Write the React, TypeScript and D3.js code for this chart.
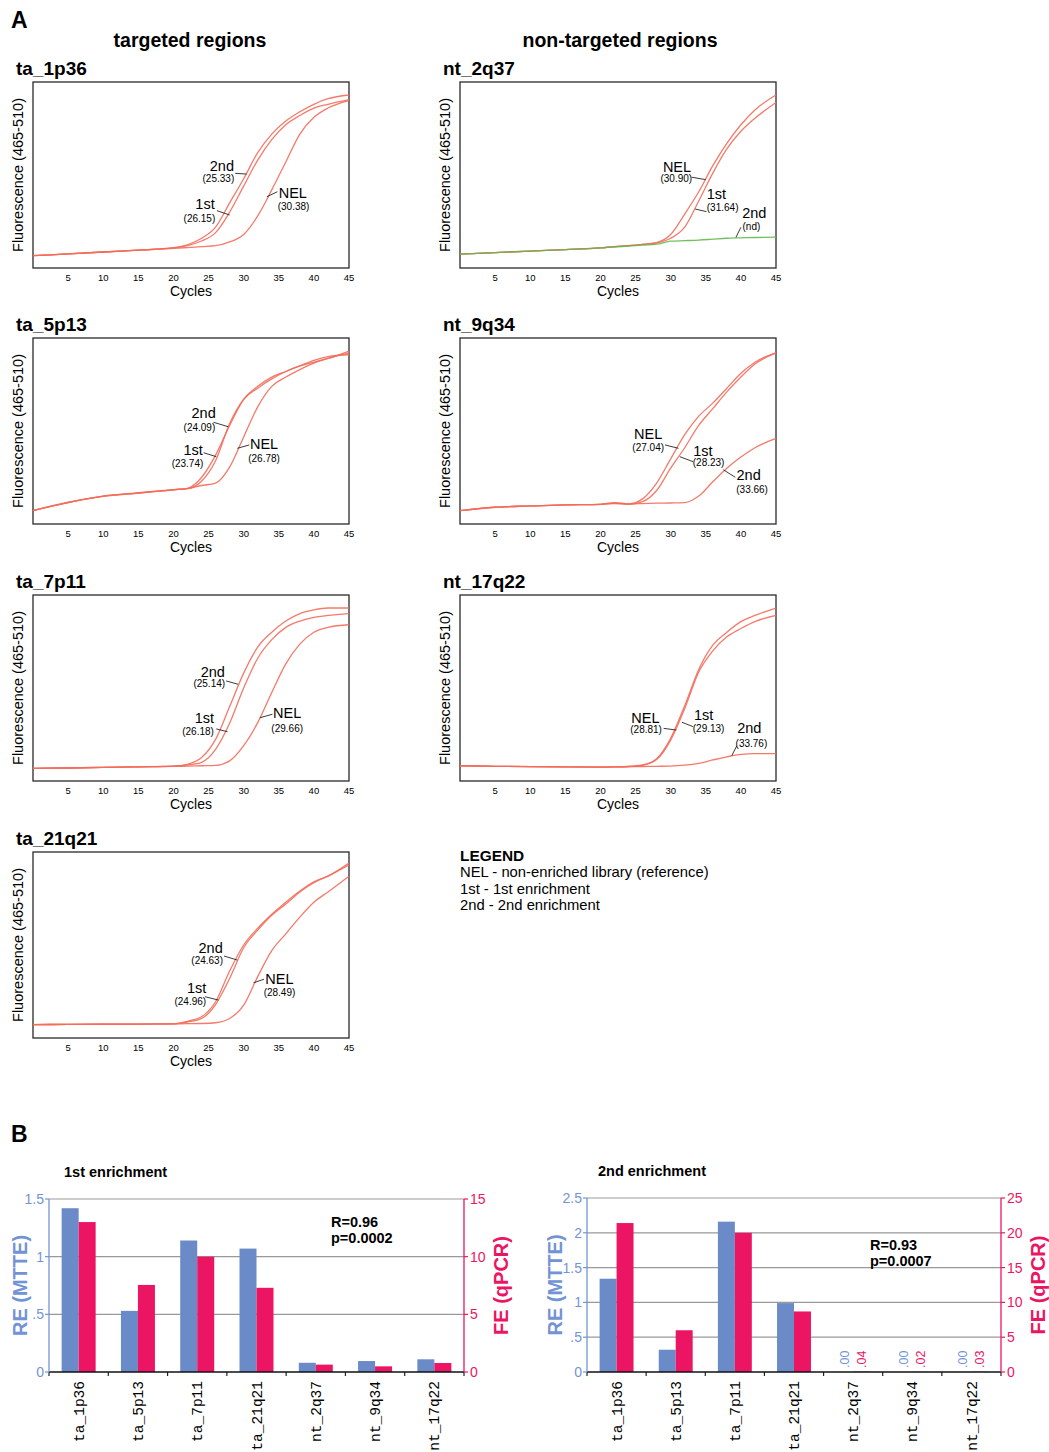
import React from 'react';
import * as d3 from 'd3';

// ---------- panel A: amplification curves (fluorescence, 0-100 scale) ----------
const cycles = [0, 5, 10, 15, 20, 22, 24, 26, 28, 30, 32, 34, 36, 38, 40, 42, 45];
const cycleTicks = [5, 10, 15, 20, 25, 30, 35, 40, 45];

const ta1p36_2nd = [6.6, 7.6, 8.6, 9.6, 10.9, 12.5, 16, 22, 35, 48, 62, 72, 79, 84, 88, 91, 93];
const ta1p36_1st = [6.6, 7.6, 8.6, 9.6, 10.8, 12, 14.5, 19, 30, 44, 58, 69, 77, 82, 86, 88, 90.5];
const ta1p36_nel = [6.6, 7.6, 8.6, 9.6, 10.5, 11, 11.5, 12, 14, 18, 28, 42, 57, 72, 81, 86, 90];

const ta5p13_2nd = [7.2, 11.7, 14.8, 16.6, 18.4, 19, 23, 34, 54, 67, 73, 78, 82, 85, 87, 89, 93];
const ta5p13_1st = [7.2, 11.5, 15, 16.8, 18.5, 19.2, 25, 37, 53, 67, 74, 79, 82, 85, 88, 90, 91];
const ta5p13_nel = [7.2, 11.5, 15, 16.6, 18.4, 19, 20.7, 22, 30.6, 46.8, 63, 74, 79, 83, 86.5, 89, 92];

const ta7p11_2nd = [6.8, 7, 7.3, 7.6, 8, 9, 12.6, 22.4, 40, 58, 72, 80, 86, 90, 92, 93, 93];
const ta7p11_1st = [6.8, 7, 7.3, 7.6, 8, 8.6, 10, 17, 31, 50, 66, 76, 82.6, 86, 88, 89, 90];
const ta7p11_nel = [6.8, 7, 7.3, 7.6, 7.9, 8, 8.2, 8.4, 10.8, 19, 31.4, 47.6, 63, 73.6, 80, 82.6, 84];

const ta21q21_2nd = [7.2, 7.3, 7.4, 7.5, 7.6, 9, 11.4, 19.5, 36, 50, 59, 66.5, 73, 79, 84, 87, 94];
const ta21q21_1st = [7.2, 7.3, 7.4, 7.5, 7.6, 8.6, 10.5, 18, 32, 48.5, 58, 66, 72, 78.5, 83.5, 87, 93];
const ta21q21_nel = [7.2, 7.3, 7.4, 7.5, 7.6, 7.7, 7.8, 8.2, 10.5, 17.7, 33, 47, 56, 65, 73, 78.5, 87];

const nt2q37_nel = [7.5, 8.3, 9.1, 9.9, 10.8, 11.5, 12, 12.7, 13.7, 18, 29, 41, 55, 67, 77, 85, 93];
const nt2q37_1st = [7.5, 8.3, 9.1, 9.9, 10.8, 11.5, 12, 12.7, 13.5, 16, 22, 36, 51, 64, 73.5, 80.5, 89];
const nt2q37_2nd = [7.5, 8.3, 9.1, 9.9, 10.8, 11.3, 11.8, 12.3, 12.8, 14.4, 14.7, 15, 15.5, 16, 16.2, 16.4, 16.6];

const nt9q34_nel = [7.2, 9, 9.7, 10.3, 10.6, 11.5, 10.8, 13.5, 22, 35, 48, 58, 65, 73, 81, 87, 92];
const nt9q34_1st = [7.2, 9, 9.7, 10.3, 10.6, 11.2, 10.6, 12, 18, 30, 41, 53, 62, 71, 79, 86, 92];
const nt9q34_2nd = [7.2, 9, 9.7, 10.3, 10.6, 11, 10.8, 11, 11.2, 11.3, 11.5, 15, 22.7, 30, 36, 41, 46];

const nt17q22_nel = [8.2, 7.9, 7.7, 7.6, 7.5, 7.6, 7.8, 8.6, 12, 23, 40.5, 60, 73, 80, 85.7, 89, 93];
const nt17q22_1st = [8.2, 7.9, 7.7, 7.6, 7.5, 7.6, 7.8, 8.4, 11.5, 22, 39, 58.6, 70, 77.5, 82, 85.7, 89];
const nt17q22_2nd = [8.2, 7.9, 7.7, 7.6, 7.5, 7.6, 7.7, 7.8, 7.9, 8, 8.5, 9.5, 11.3, 13, 14.3, 14.7, 14.7];

// crossing points (Ct) shown next to each curve, null = not detected
const ctTa1p36 = { nel: 30.38, first: 26.15, second: 25.33 };
const ctTa5p13 = { nel: 26.78, first: 23.74, second: 24.09 };
const ctTa7p11 = { nel: 29.66, first: 26.18, second: 25.14 };
const ctTa21q21 = { nel: 28.49, first: 24.96, second: 24.63 };
const ctNt2q37 = { nel: 30.90, first: 31.64, second: null };
const ctNt9q34 = { nel: 27.04, first: 28.23, second: 33.66 };
const ctNt17q22 = { nel: 28.81, first: 29.13, second: 33.76 };

// label placement, in (cycle, fluorescence) units: name, ct, leader start -> leader end
const notesTa1p36 = [
  { key: 'second', name: [26.9, 52.3], ct: [26.4, 46.4], leader: [[28.8, 50.9], [30.4, 50.5]] },
  { key: 'first', name: [24.5, 31.6], ct: [23.7, 24.9], leader: [[26.2, 30.8], [28.0, 28.5]] },
  { key: 'nel', name: [37.0, 37.5], ct: [37.1, 31.2], leader: [[34.8, 41.0], [33.3, 38.3]] },
];
const notesTa5p13 = [
  { key: 'second', name: [24.3, 56.8], ct: [23.7, 50.2], leader: [[25.7, 54.7], [27.8, 52.3]] },
  { key: 'first', name: [22.8, 37.1], ct: [22.0, 30.5], leader: [[24.3, 38.3], [26.1, 36.2]] },
  { key: 'nel', name: [32.9, 40.2], ct: [32.9, 33.5], leader: [[30.8, 42.5], [29.1, 40.7]] },
];
const notesTa7p11 = [
  { key: 'second', name: [25.6, 56.1], ct: [25.1, 50.4], leader: [[27.5, 53.8], [29.2, 52.0]] },
  { key: 'first', name: [24.4, 31.0], ct: [23.5, 24.7], leader: [[26.1, 28.0], [27.7, 26.5]] },
  { key: 'nel', name: [36.2, 33.7], ct: [36.2, 26.5], leader: [[34.1, 35.9], [32.3, 34.0]] },
];
const notesTa21q21 = [
  { key: 'second', name: [25.3, 45.9], ct: [24.8, 39.6], leader: [[27.2, 44.1], [29.1, 41.9]] },
  { key: 'first', name: [23.3, 24.0], ct: [22.4, 17.7], leader: [[24.5, 22.2], [26.4, 20.4]] },
  { key: 'nel', name: [35.1, 29.0], ct: [35.1, 22.7], leader: [[32.9, 31.6], [31.4, 29.7]] },
];
const notesNt2q37 = [
  { key: 'nel', name: [30.9, 51.8], ct: [30.8, 46.4], leader: [[33.0, 48.8], [35.0, 47.5]] },
  { key: 'first', name: [36.5, 37.1], ct: [37.4, 30.8], leader: [[35.1, 30.3], [33.5, 31.7]] },
  { key: 'second', name: [41.9, 26.7], ct: [41.5, 20.6], leader: [[40.0, 21.9], [39.3, 16.5]] },
];
const notesNt9q34 = [
  { key: 'nel', name: [26.8, 45.7], ct: [26.8, 39.4], leader: [[29.2, 42.5], [31.1, 40.7]] },
  { key: 'first', name: [34.6, 36.7], ct: [35.4, 31.0], leader: [[33.2, 33.5], [31.3, 36.2]] },
  { key: 'second', name: [41.1, 23.7], ct: [41.6, 16.7], leader: [[39.2, 25.1], [37.5, 29.2]] },
];
const notesNt17q22 = [
  { key: 'nel', name: [26.4, 31.0], ct: [26.5, 25.6], leader: [[29.0, 28.3], [30.8, 27.4]] },
  { key: 'first', name: [34.7, 32.8], ct: [35.4, 26.5], leader: [[33.2, 29.2], [31.6, 31.6]] },
  { key: 'second', name: [41.2, 25.6], ct: [41.5, 18.4], leader: [[39.4, 18.8], [38.7, 13.6]] },
];

const curveNames = { nel: 'NEL', first: '1st', second: '2nd' };
const legendLines = ['NEL - non-enriched library (reference)', '1st - 1st enrichment', '2nd - 2nd enrichment'];

// ---------- panel B: enrichment bars ----------
const regions = ['ta_1p36', 'ta_5p13', 'ta_7p11', 'ta_21q21', 'nt_2q37', 'nt_9q34', 'nt_17q22'];
const re1 = [1.42, 0.53, 1.14, 1.07, 0.08, 0.095, 0.11];
const fe1 = [13.0, 7.55, 10.0, 7.3, 0.64, 0.49, 0.78];
const re2 = [1.34, 0.32, 2.16, 0.99, 0, 0, 0];
const fe2 = [21.4, 6.0, 20.0, 8.7, 0.04, 0.02, 0.03];
const reTicks1 = [0, 0.5, 1, 1.5];
const feTicks1 = [0, 5, 10, 15];
const reTicks2 = [0, 0.5, 1, 1.5, 2, 2.5];
const feTicks2 = [0, 5, 10, 15, 20, 25];

const SANS = "'Liberation Sans', Arial, Helvetica, sans-serif";
const MONO = "'Liberation Mono', 'DejaVu Sans Mono', 'Courier New', monospace";
const RED = '#f36b5a';
const GREEN = '#62b94c';
const BLUE = '#6a8ac8';
const BLUE_TXT = '#7394d4';
const PINK = '#ec1564';

const boxW = 316;
const boxH = 186;

function AmpPlot({ title, left, top, series, ct, notes }) {
  const x = d3.scaleLinear().domain([0, 45]).range([left, left + boxW]);
  const y = d3.scaleLinear().domain([0, 100]).range([top + boxH, top]);
  const line = d3.line<number>()
    .x((d, i) => x(cycles[i]))
    .y(d => y(d))
    .curve(d3.curveMonotoneX);

  return (
    <g>
      <text x={left - 17} y={top - 7} fontSize={19} fontWeight="bold">{title}</text>
      <rect x={left} y={top} width={boxW} height={boxH} fill="#fff" stroke="#2a2a2a" strokeWidth={1.3} />
      {series.map((s, i) => (
        <path key={i} d={line(s.values)} fill="none" stroke={s.color} strokeWidth={1.3} strokeOpacity={0.9} />
      ))}
      {cycleTicks.map(t => (
        <text key={t} x={x(t)} y={top + boxH + 13} fontSize={9.5} textAnchor="middle">{t}</text>
      ))}
      <text x={left + boxW / 2} y={top + boxH + 28} fontSize={14} textAnchor="middle">Cycles</text>
      <text transform={`translate(${left - 15.5},${top + boxH / 2}) rotate(-90)`} dy="0.35em"
        fontSize={14.5} textAnchor="middle">Fluorescence (465-510)</text>
      {notes.map(n => {
        const v = ct[n.key];
        return (
          <g key={n.key}>
            <line x1={x(n.leader[0][0])} y1={y(n.leader[0][1])} x2={x(n.leader[1][0])} y2={y(n.leader[1][1])}
              stroke="#222" strokeWidth={0.9} />
            <text x={x(n.name[0])} y={y(n.name[1])} fontSize={14.5} textAnchor="middle">{curveNames[n.key]}</text>
            <text x={x(n.ct[0])} y={y(n.ct[1])} fontSize={10} textAnchor="middle">
              {v == null ? '(nd)' : `(${v.toFixed(2)})`}
            </text>
          </g>
        );
      })}
    </g>
  );
}

const trimZero = (d: number) => (d === 0 ? '0' : String(d).replace(/^0\./, '.'));

function EnrichChart({ title, titleX, left, right, top, bottom, re, fe, reTicks, feTicks, r, p, statsX, statsY, reLabelGap }) {
  const x = d3.scaleBand().domain(regions).range([left, right]);
  const sub = d3.scaleBand().domain(['re', 'fe']).range([0, x.bandwidth()]).paddingInner(0).paddingOuter(0.744);
  const yRe = d3.scaleLinear().domain([0, reTicks[reTicks.length - 1]]).range([bottom, top]);
  const yFe = d3.scaleLinear().domain([0, feTicks[feTicks.length - 1]]).range([bottom, top]);
  const bounds = regions.map(c => x(c)).concat([right]);

  return (
    <g>
      <text x={titleX} y={top - 22} fontSize={14.5} fontWeight="bold">{title}</text>
      {reTicks.filter(t => t > 0).map(t => (
        <line key={t} x1={left} x2={right} y1={yRe(t)} y2={yRe(t)} stroke="#999" strokeWidth={1.2} />
      ))}
      {regions.map((c, i) => (
        <g key={c}>
          <rect x={x(c) + sub('re')} y={yRe(re[i])} width={sub.bandwidth()} height={bottom - yRe(re[i])} fill={BLUE} />
          <rect x={x(c) + sub('fe')} y={yFe(fe[i])} width={sub.bandwidth()} height={bottom - yFe(fe[i])} fill={PINK} />
          {re[i] < 0.005 && (
            <g fontSize={12.5}>
              <text transform={`translate(${x(c) + sub('re') + sub.bandwidth() / 2},${bottom - 4}) rotate(-90)`}
                dy="0.35em" fill={BLUE_TXT}>{d3.format('.2f')(re[i]).replace(/^0/, '')}</text>
              <text transform={`translate(${x(c) + sub('fe') + sub.bandwidth() / 2},${bottom - 4}) rotate(-90)`}
                dy="0.35em" fill={PINK}>{d3.format('.2f')(fe[i]).replace(/^0/, '')}</text>
            </g>
          )}
          <text transform={`translate(${x(c) + x.bandwidth() / 2},${bottom + 9}) rotate(-90)`} dy="0.35em"
            textAnchor="end" fontFamily={MONO} fontSize={14.5}>{c}</text>
        </g>
      ))}
      {bounds.map((b, i) => (
        <line key={i} x1={b} x2={b} y1={bottom} y2={bottom + 4} stroke="#222" strokeWidth={1.2} />
      ))}
      <line x1={left} x2={right} y1={bottom} y2={bottom} stroke="#111" strokeWidth={1.6} />
      {/* left axis, RE */}
      <line x1={left} x2={left} y1={top} y2={bottom} stroke={BLUE_TXT} strokeWidth={1.3} />
      {reTicks.map(t => (
        <g key={t}>
          <line x1={left - 4} x2={left} y1={yRe(t)} y2={yRe(t)} stroke={BLUE_TXT} strokeWidth={1.2} />
          <text x={left - 5} y={yRe(t)} dy="0.35em" textAnchor="end" fontSize={14} fill={BLUE_TXT}>{trimZero(t)}</text>
        </g>
      ))}
      <text transform={`translate(${left - reLabelGap},${(top + bottom) / 2}) rotate(-90)`} dy="0.35em" textAnchor="middle"
        fontSize={20} fontWeight="bold" fill={BLUE_TXT}>RE (MTTE)</text>
      {/* right axis, FE */}
      <line x1={right} x2={right} y1={top} y2={bottom} stroke={PINK} strokeWidth={1.3} />
      {feTicks.map(t => (
        <g key={t}>
          <line x1={right} x2={right + 4} y1={yFe(t)} y2={yFe(t)} stroke={PINK} strokeWidth={1.2} />
          <text x={right + 6} y={yFe(t)} dy="0.35em" fontSize={14} fill={PINK}>{t}</text>
        </g>
      ))}
      <text transform={`translate(${right + 37},${(top + bottom) / 2}) rotate(-90)`} dy="0.35em" textAnchor="middle"
        fontSize={20} fontWeight="bold" fill={PINK}>FE (qPCR)</text>
      <text x={statsX} y={statsY} fontSize={14.5} fontWeight="bold">R={r}</text>
      <text x={statsX} y={statsY + 16} fontSize={14.5} fontWeight="bold">p={p}</text>
    </g>
  );
}

const leftCol = 33;
const rightCol = 460;
const rowTops = [82, 338, 595, 852];

export default function App() {
  const red = v => ({ values: v, color: RED });
  return (
    <div style={{ position: 'absolute', left: 0, top: 0, background: '#fff' }}>
      <svg width={1049} height={1452} fontFamily={SANS} style={{ display: 'block' }}>
        <rect width={1049} height={1452} fill="#fff" />
        <text x={11} y={28} fontSize={23} fontWeight="bold">A</text>
        <text x={190} y={47} fontSize={19.5} fontWeight="bold" textAnchor="middle">targeted regions</text>
        <text x={620} y={47} fontSize={19.5} fontWeight="bold" textAnchor="middle">non-targeted regions</text>

        <AmpPlot title="ta_1p36" left={leftCol} top={rowTops[0]} ct={ctTa1p36} notes={notesTa1p36}
          series={[red(ta1p36_nel), red(ta1p36_1st), red(ta1p36_2nd)]} />
        <AmpPlot title="ta_5p13" left={leftCol} top={rowTops[1]} ct={ctTa5p13} notes={notesTa5p13}
          series={[red(ta5p13_nel), red(ta5p13_1st), red(ta5p13_2nd)]} />
        <AmpPlot title="ta_7p11" left={leftCol} top={rowTops[2]} ct={ctTa7p11} notes={notesTa7p11}
          series={[red(ta7p11_nel), red(ta7p11_1st), red(ta7p11_2nd)]} />
        <AmpPlot title="ta_21q21" left={leftCol} top={rowTops[3]} ct={ctTa21q21} notes={notesTa21q21}
          series={[red(ta21q21_nel), red(ta21q21_1st), red(ta21q21_2nd)]} />
        <AmpPlot title="nt_2q37" left={rightCol} top={rowTops[0]} ct={ctNt2q37} notes={notesNt2q37}
          series={[red(nt2q37_nel), red(nt2q37_1st), { values: nt2q37_2nd, color: GREEN }]} />
        <AmpPlot title="nt_9q34" left={rightCol} top={rowTops[1]} ct={ctNt9q34} notes={notesNt9q34}
          series={[red(nt9q34_nel), red(nt9q34_1st), red(nt9q34_2nd)]} />
        <AmpPlot title="nt_17q22" left={rightCol} top={rowTops[2]} ct={ctNt17q22} notes={notesNt17q22}
          series={[red(nt17q22_nel), red(nt17q22_1st), red(nt17q22_2nd)]} />

        <text x={460} y={861} fontSize={15.4} fontWeight="bold">LEGEND</text>
        {legendLines.map((s, i) => (
          <text key={i} x={460} y={877 + i * 16.5} fontSize={14.8}>{s}</text>
        ))}

        <text x={11} y={1142} fontSize={23} fontWeight="bold">B</text>
        <EnrichChart title="1st enrichment" titleX={64} left={49} right={464} top={1199} bottom={1372} reLabelGap={29}
          re={re1} fe={fe1} reTicks={reTicks1} feTicks={feTicks1} r="0.96" p="0.0002" statsX={331} statsY={1227} />
        <EnrichChart title="2nd enrichment" titleX={598} left={587} right={1001} top={1198} bottom={1372} reLabelGap={32}
          re={re2} fe={fe2} reTicks={reTicks2} feTicks={feTicks2} r="0.93" p="0.0007" statsX={870} statsY={1250} />
      </svg>
    </div>
  );
}
